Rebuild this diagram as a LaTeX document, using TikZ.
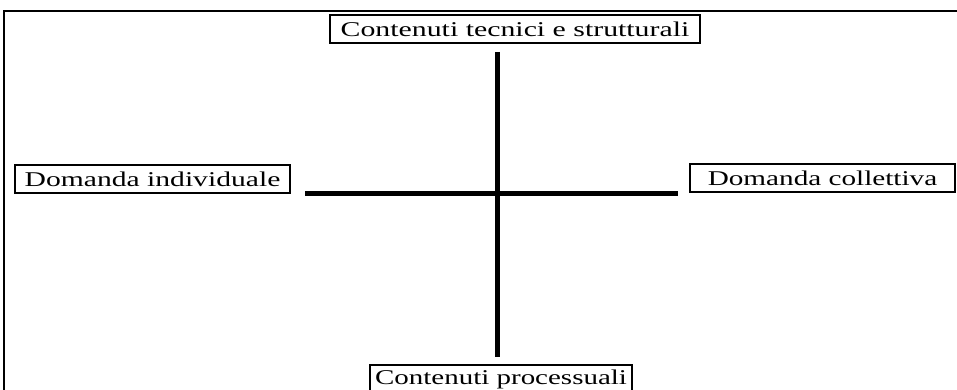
\documentclass[tikz,border=0pt]{standalone}
\usepackage{fontspec}
\setmainfont{Liberation Serif}
\begin{document}
\begin{tikzpicture}[x=1pt,y=-1pt,
  lbl/.style={draw=black,line width=1.6pt,inner sep=0pt,anchor=center,minimum height=28pt,font=\fontsize{21}{21}\selectfont},
  axis/.style={line width=5pt,draw=black}]
\useasboundingbox (0,0) rectangle (957,390);
\draw[line width=2pt] (4,395) -- (4,11) -- (960,11);
\node[lbl,minimum width=370pt] (top) at (515,29) {\scalebox{1.42}[1]{Contenuti tecnici e strutturali}};
\node[lbl,minimum width=275pt] (left) at (152.5,179) {\scalebox{1.41}[1]{Domanda individuale}};
\node[lbl,minimum width=265pt] (right) at (822.5,178) {\scalebox{1.39}[1]{Domanda collettiva}};
\node[lbl,minimum width=262pt] (bot) at (501,379) {\scalebox{1.38}[1]{Contenuti processuali}};
\coordinate (vt) at (497,52);
\coordinate (vb) at (497,357);
\coordinate (hl) at (305,193);
\coordinate (hr) at (678,193);
\draw[axis] (vt) -- (vb);
\draw[axis] (hl) -- (hr);
\end{tikzpicture}
\end{document}
